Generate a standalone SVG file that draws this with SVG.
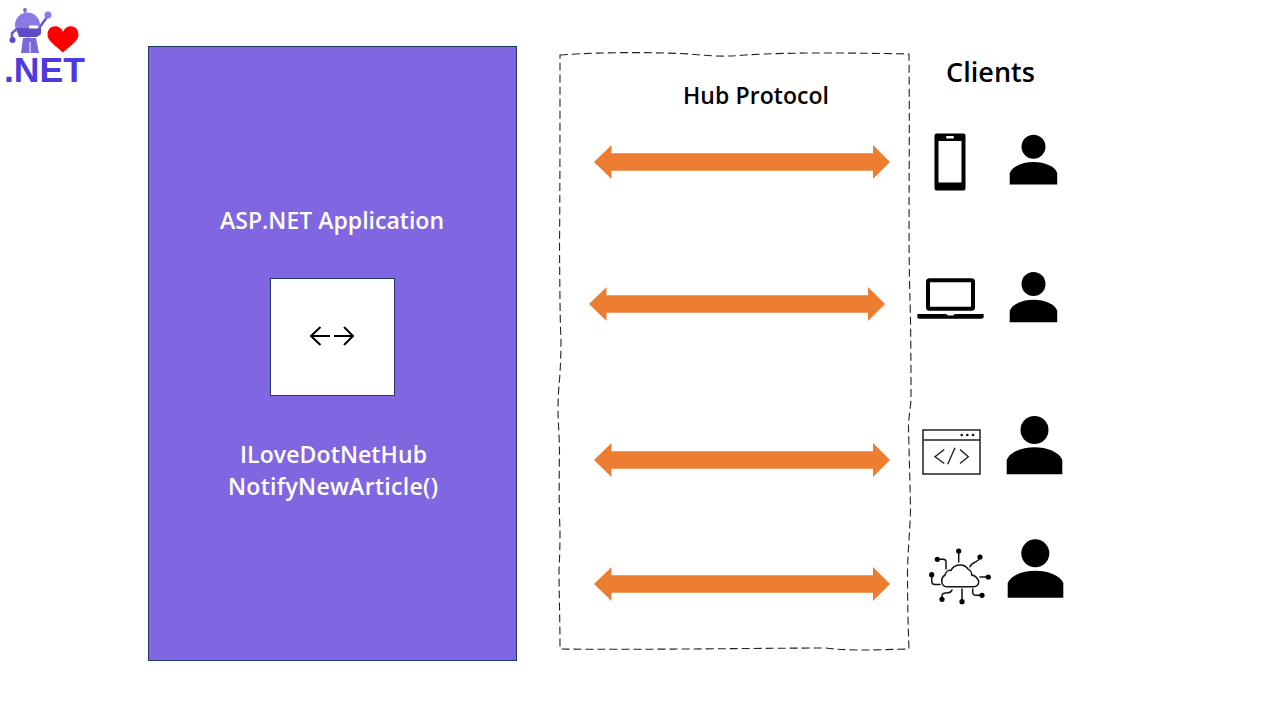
<svg xmlns="http://www.w3.org/2000/svg" width="1280" height="720" viewBox="0 0 1280 720">
<style>
text{font-family:"Open Sans","Noto Sans","Liberation Sans",sans-serif;font-weight:600}
.w{fill:#fff;font-size:23px}
.k{fill:#000}
.arrow{fill:#ed7d31}
.ln{fill:none;stroke:#000;stroke-width:2}
.t{fill:none;stroke:#111;stroke-width:1.500;stroke-linecap:round;stroke-linejoin:round}
</style>
<defs>
<path id="dbl" d="M0 0L17.500-17V-8.700H279V-17L296 0L279 17V8.700H17.500V17Z"/>
<path id="body" d="M0 22.500V11C3 4 13 0 24 0S45 4 47.500 11V22.500Z"/>
</defs>
<rect width="1280" height="720" fill="#fff"/>
<g id="logo">
<path d="M18 28L12 33V39M37 31L47 17" stroke="#6a58d0" stroke-width="2.500" fill="none"/>
<circle cx="48" cy="15" r="3.500" fill="#8a7ae6"/>
<circle cx="12.500" cy="40" r="3" fill="#5a48c8"/>
<circle cx="25" cy="10" r="2" fill="#7a68dc"/>
<path d="M25 10V14" stroke="#7a68dc" stroke-width="1.500"/>
<circle cx="27.500" cy="25" r="12.500" fill="#8a7ae6"/>
<path d="M16 28H41V34L37 37H19Z" fill="#5c4cc8"/>
<rect x="29" y="25.500" width="9" height="3" fill="#fff"/>
<path d="M23 38H36L39 53H21Z" fill="#7a68dc"/>
<path d="M30 42V53" stroke="#fff" stroke-width="1"/>
<path d="M63 52.500C56 46 47.500 41 47.500 35C47.500 24 60 24 63 32C66 24 78.500 24 78.500 35C78.500 41 70 46 63 52.500Z" fill="#f00"/>
<text x="4" y="82" style="font-family:'Liberation Sans',sans-serif;font-weight:700;font-size:35.500px" fill="#4f3ae0">.NET</text>
</g>
<g id="app">
<rect x="148.500" y="46.500" width="368" height="614" fill="#8066e0" stroke="#1f3864"/>
<text class="w" x="220" y="228.500" textLength="224">ASP.NET Application</text>
<text class="w" x="240" y="462.500" textLength="187">ILoveDotNetHub</text>
<text class="w" x="228" y="494.500" textLength="210">NotifyNewArticle()</text>
</g>
<g id="hub-icon">
<rect x="270.500" y="278.500" width="124" height="117" fill="#fff" stroke="#1f3864"/>
<path class="ln" d="M330 336H311M320.500 327L311 336L320.500 345M334 336H353M344 327L353 336L344 345"/>
</g>
<g id="hub-protocol">
<path fill="none" stroke="#222" stroke-width="1.100" stroke-dasharray="8 4" d="M560 55C600 52 650 52 690 54C710 56 725 57 745 55C790 52 860 53 909 54C910 150 908 240 910 300C911 330 911 380 911 400C910 412 908.500 418 908.500 428C909 450 910 480 910.500 510C910 530 908 550 907.500 570C907.500 600 908 625 909 649C870 650 850 651 825 648C770 648 640 650 560 649C560 620 559 590 559 570C560 550 560 540 560 530C559 510 559 480 559.500 450C559 430 558 420 558 410C558 400 558.500 392 559 385C560.500 372 561 350 561 340C560 320 560 300 559.500 250C560 190 560 120 560 55Z"/>
<text x="683" y="103.500" class="k" font-size="23" textLength="146">Hub Protocol</text>
</g>
<g id="connectors">
<use href="#dbl" class="arrow" x="594" y="162"/>
<use href="#dbl" class="arrow" x="589" y="304"/>
<use href="#dbl" class="arrow" x="594" y="460"/>
<use href="#dbl" class="arrow" x="594" y="584"/>
</g>
<g id="clients-label"><text x="946" y="82" class="k" font-size="27" textLength="89">Clients</text></g>
<g id="client-mobile">
<rect x="934.500" y="133.500" width="31" height="57" rx="2" fill="#000"/>
<rect x="938.500" y="141" width="23" height="41.500" fill="#fff"/>
<rect x="946" y="136" width="8" height="2.500" rx="1.200" fill="#fff"/>
<circle cx="1033.500" cy="146.700" r="12"/>
<use href="#body" x="1009.700" y="162"/>
</g>
<g id="client-laptop">
<rect x="928" y="280.300" width="45" height="28.500" rx="1.500" fill="#fff" stroke="#000" stroke-width="4"/>
<path d="M917.300 314H946L948 315.500H953L955 314H983.700V316.500Q983.700 318.700 981 318.700H920Q917.300 318.700 917.300 316.500Z"/>
<circle cx="1033.500" cy="284" r="12"/>
<use href="#body" x="1009.700" y="299.800"/>
</g>
<g id="client-web">
<rect x="923" y="430" width="57" height="44" fill="#fff" stroke="#222" stroke-width="1.500"/>
<path d="M923 440H980" stroke="#222" stroke-width="1.500"/>
<g fill="#111"><circle cx="961.700" cy="435" r="1.300"/><circle cx="967.300" cy="435" r="1.300"/><circle cx="973" cy="435" r="1.300"/></g>
<path fill="none" stroke="#222" stroke-width="1.400" d="M944.300 449.500L935 456.700L944.300 463.500M960 449.500L968.300 456.700L960 463.500M955 447.700L947.700 464.300"/>
<circle cx="1034.500" cy="430" r="14"/>
<path d="M1006.700 474.300V460C1010 452 1022 447.300 1034.500 447.300S1059 452 1062.300 460V474.300Z"/>
</g>
<g id="client-iot">
<path class="t" d="M946.700 586.700C941 586.700 940 578 945 575C946 571 949 570 951 570.500C954 564 964 563 968 569C971 571 972 573 971.700 575C977 576 981 582 977 585.500C976 586.500 975 586.700 974 586.700Z"/>
<path class="t" d="M958.700 551V562M980 557C979 563 972 561 970 566.700M937.300 559.300H943Q946 559.300 946 562V569M931.700 574.700V581Q931.700 584.500 935 584.500H940M988.300 577H980M982 595.300H976Q972.700 595.300 972.700 592V589M962 601.700V589M942 599.300V596Q942 593 946 593Q951 593 952 590"/>
<g fill="#000">
<circle cx="958.700" cy="551" r="2.600"/><circle cx="980" cy="557" r="2.600"/><circle cx="937.300" cy="559.300" r="2.600"/><circle cx="931.700" cy="574.700" r="2.600"/><circle cx="988.300" cy="577" r="2.600"/><circle cx="982" cy="595.300" r="2.600"/><circle cx="962" cy="601.700" r="2.600"/><circle cx="942" cy="599.300" r="2.600"/>
</g>
<circle cx="1035.300" cy="553.300" r="14"/>
<path d="M1007.700 597.700V583C1011 575 1023 570.700 1035.300 570.700S1060 575 1063.300 583V597.700Z"/>
</g>
</svg>
